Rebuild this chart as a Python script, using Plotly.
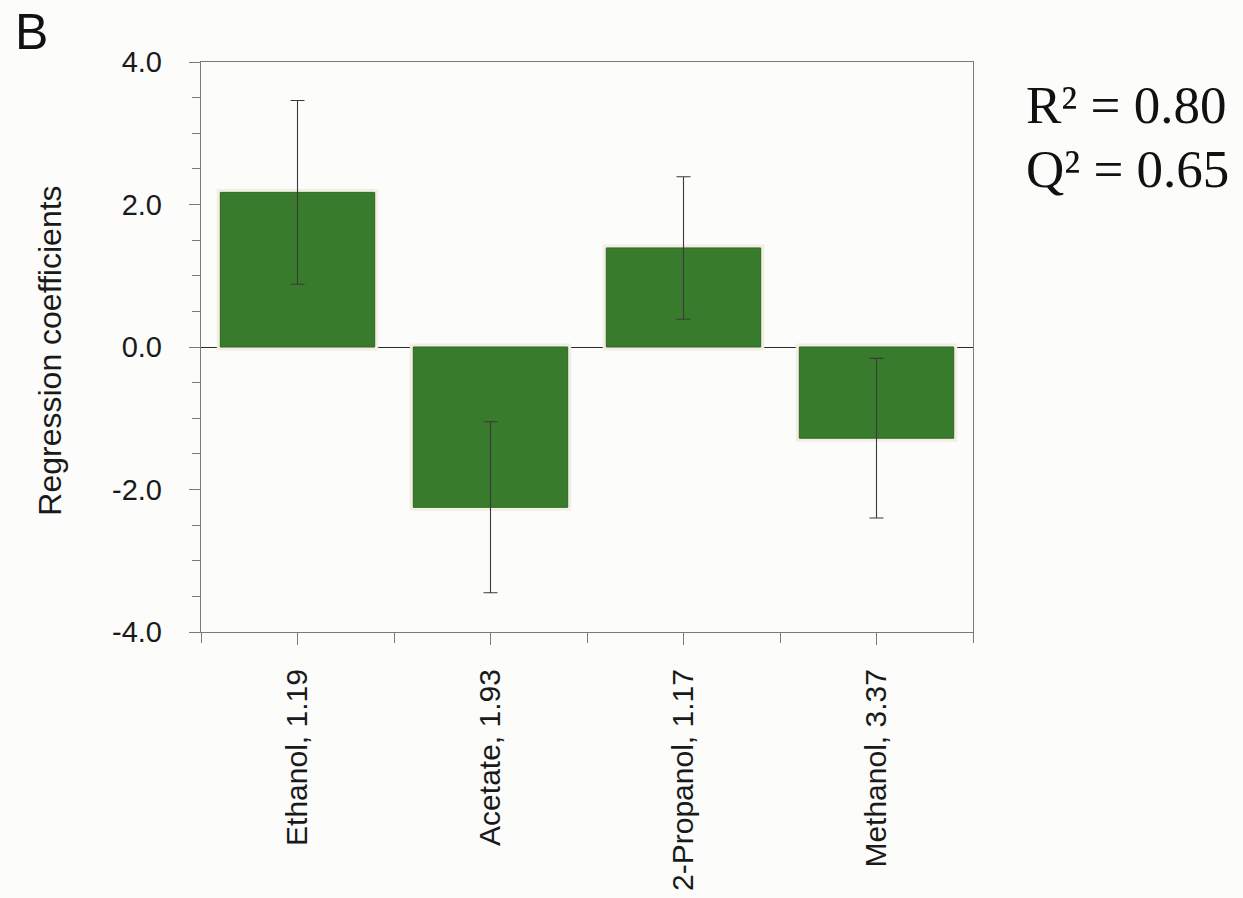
import plotly.graph_objects as go

# Regression coefficients of the four compounds (label includes the VIP value)
categories = ["Ethanol, 1.19", "Acetate, 1.93", "2-Propanol, 1.17", "Methanol, 3.37"]
coefficients = [2.17, -2.25, 1.39, -1.28]
conf_intervals = [1.29, 1.20, 1.00, 1.12]
y_tick_values = [-4, -2, 0, 2, 4]
y_tick_labels = ["-4.0", "-2.0", "0.0", "2.0", "4.0"]
r2_text = "R² = 0.80"
q2_text = "Q² = 0.65"

x_pos = list(range(len(categories)))
bar_green = "#387b2c"
axis_grey = "#7a7a7a"
sans = "Liberation Sans, Arial, sans-serif"
serif = "Liberation Serif, Times New Roman, serif"

fig = go.Figure()

# soft beige halo around each bar
fig.add_trace(go.Bar(
    x=x_pos, y=coefficients, width=0.8,
    marker=dict(color="#f3efe4", line=dict(color="#f2eee2", width=7)),
    hoverinfo="skip", showlegend=False,
))

# the coefficient bars with their confidence intervals
fig.add_trace(go.Bar(
    x=x_pos, y=coefficients, width=0.8,
    marker=dict(color=bar_green, line=dict(color="#2e6424", width=1)),
    error_y=dict(type="data", array=conf_intervals, visible=True,
                 color="#3a3a3a", thickness=1.1, width=7),
    showlegend=False,
))

fig.update_layout(
    width=1243, height=898,
    barmode="overlay",
    paper_bgcolor="#fcfcfa",
    plot_bgcolor="#fcfcfa",
    margin=dict(l=201, r=270, t=62, b=266),
    font=dict(family=sans, color="#1a1a1a"),
)

fig.update_xaxes(
    range=[-0.5, 3.5], automargin=False,
    tickmode="array", tickvals=x_pos, ticktext=categories,
    tickangle=-90,
    tickfont=dict(size=30, family=sans, color="#1a1a1a"),
    ticks="outside", ticklen=12, tickcolor=axis_grey, tickwidth=1,
    minor=dict(tickmode="array", tickvals=[-0.5, 0.5, 1.5, 2.5, 3.5],
               ticks="outside", ticklen=10, tickcolor=axis_grey, tickwidth=1),
    ticklabelstandoff=12,
    showline=True, linecolor=axis_grey, linewidth=1.2, mirror=True,
    showgrid=False, zeroline=False,
)

fig.update_yaxes(
    range=[-4, 4], automargin=False,
    tickmode="array", tickvals=y_tick_values, ticktext=y_tick_labels,
    tickfont=dict(size=29, family=sans, color="#1a1a1a"),
    ticks="outside", ticklen=11, tickcolor=axis_grey, tickwidth=1,
    minor=dict(dtick=0.5, tick0=0, ticks="outside", ticklen=8,
               tickcolor=axis_grey, tickwidth=1),
    ticklabelstandoff=21,
    showline=True, linecolor=axis_grey, linewidth=1.4, mirror=True,
    showgrid=False,
    zeroline=True, zerolinecolor="#2a2a2a", zerolinewidth=1.2,
)

fig.add_annotation(
    text="Regression coefficients", textangle=-90,
    xref="paper", yref="paper", x=-0.196, y=0.493,
    xanchor="center", yanchor="middle", showarrow=False,
    font=dict(size=32, family=sans, color="#1a1a1a"),
)

fig.add_annotation(
    text="B", xref="paper", yref="paper", x=-0.243, y=1.106,
    xanchor="left", yanchor="top", showarrow=False,
    font=dict(size=50, family=sans, color="#111111"),
)

fig.add_annotation(
    text=r2_text, xref="paper", yref="paper", x=1.066, y=0.925,
    xanchor="left", yanchor="middle", showarrow=False,
    font=dict(size=53, family=serif, color="#111111"),
)
fig.add_annotation(
    text=q2_text, xref="paper", yref="paper", x=1.066, y=0.813,
    xanchor="left", yanchor="middle", showarrow=False,
    font=dict(size=53, family=serif, color="#111111"),
)

fig.write_html("out.html")
